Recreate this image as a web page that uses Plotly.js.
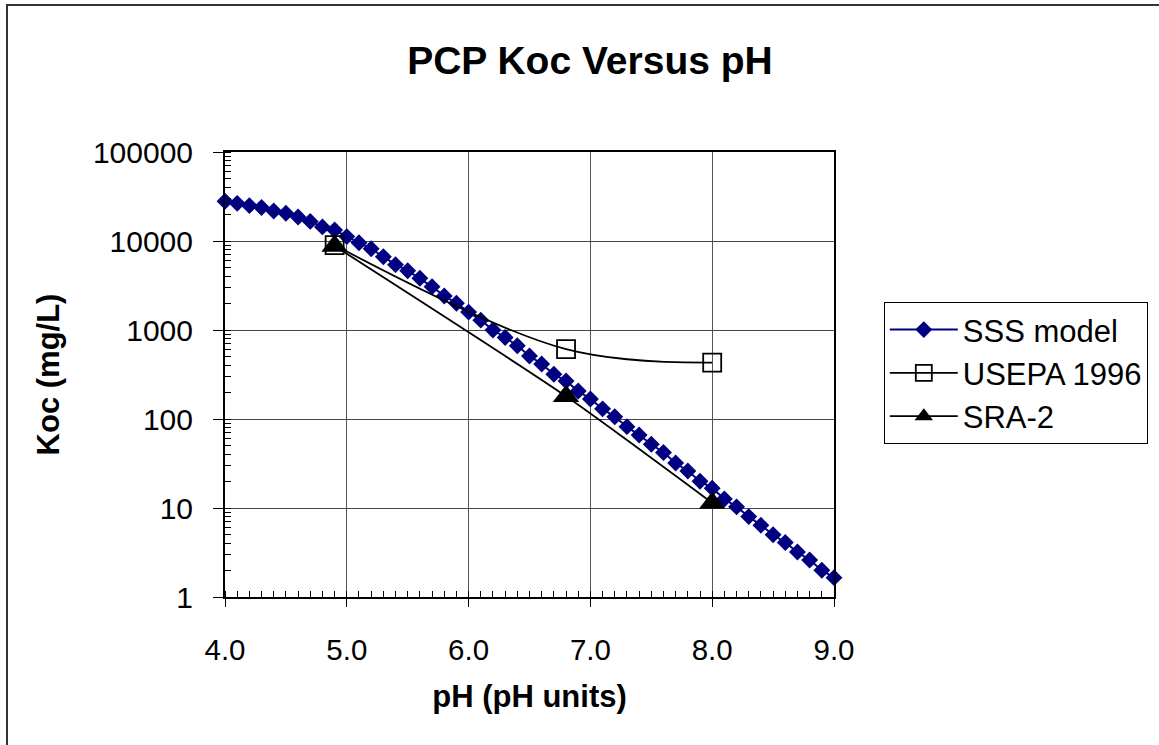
<!DOCTYPE html>
<html>
<head>
<meta charset="utf-8">
<script src="https://cdn.plot.ly/plotly-3.0.1.min.js"></script>
<style>
html,body{margin:0;padding:0;background:#fff;overflow:hidden;}
#frame{position:absolute;left:6px;top:4px;width:1200px;height:800px;border-left:2px solid #333;border-top:2px solid #333;pointer-events:none;z-index:5;}
#chart{position:absolute;left:0;top:0;width:1159px;height:745px;}
</style>
</head>
<body>
<div id="chart"></div>
<div id="frame"></div>
<script>
// ---- data ----
const phValues = [4.0,4.1,4.2,4.3,4.4,4.5,4.6,4.7,4.8,4.9,
                  5.0,5.1,5.2,5.3,5.4,5.5,5.6,5.7,5.8,5.9,
                  6.0,6.1,6.2,6.3,6.4,6.5,6.6,6.7,6.8,6.9,
                  7.0,7.1,7.2,7.3,7.4,7.5,7.6,7.7,7.8,7.9,
                  8.0,8.1,8.2,8.3,8.4,8.5,8.6,8.7,8.8,8.9,9.0];
const sssModel = [28000,26500,25000,23800,21700,20500,18600,16600,14400,13300,
                  11200,9550,8180,6660,5420,4640,3810,3070,2410,2000,
                  1590,1290,1000,825,665,511,415,318,267,206,
                  168,130,106,82,66,52,42,32,26,20,
                  16.7,12.6,10.3,8.0,6.4,5.0,4.1,3.2,2.6,2.0,1.65];
const usepaPH = [4.9, 6.8, 8.0];
const usepaKoc = [9000, 610, 430];
const sraPH = [4.9, 6.8, 8.0];
const sraKoc = [8800, 180, 11.4];
const xTickVals = [4,5,6,7,8,9];
const yTickVals = [1,10,100,1000,10000,100000];
const yTickText = ['1','10','100','1000','10000','100000'];

const FONT = 'Liberation Sans, Arial, sans-serif';

const traces = [
  {x: phValues, y: sssModel, name: 'SSS model', type: 'scatter', mode: 'lines+markers',
   line: {color: '#000080', width: 2},
   marker: {symbol: 'diamond', size: 13, color: '#000080', line: {width: 0}},
   cliponaxis: false},
  {x: usepaPH, y: usepaKoc, name: 'USEPA 1996', type: 'scatter', mode: 'lines+markers',
   line: {color: '#000', width: 1.8, shape: 'spline', smoothing: 1},
   marker: {symbol: 'square-open', size: 18, color: '#000', line: {width: 1.8, color: '#000'}},
   cliponaxis: false},
  {x: sraPH, y: sraKoc, name: 'SRA-2', type: 'scatter', mode: 'lines+markers',
   line: {color: '#000', width: 1.8, shape: 'spline', smoothing: 0.6},
   marker: {symbol: 'triangle-up', size: 23, color: '#000'},
   cliponaxis: false}
];

const layout = {
  width: 1159, height: 745,
  margin: {l: 225, r: 324, t: 152, b: 148},
  paper_bgcolor: '#fff', plot_bgcolor: '#fff',
  font: {family: FONT, color: '#000'},
  showlegend: true,
  title: {text: '<b>PCP Koc Versus pH</b>', font: {family: FONT, size: 39, color: '#000'},
          xref: 'container', yref: 'container', x: 0.509, y: 0.919, xanchor: 'center', yanchor: 'middle'},
  xaxis: {
    range: [4, 9], tickvals: xTickVals, tickformat: '.1f',
    ticks: 'outside', ticklen: 8, tickwidth: 1, tickcolor: '#000',
    tickfont: {family: FONT, size: 29.5, color: '#000'}, ticklabelstandoff: 18,
    showline: true, linecolor: '#000', linewidth: 2, mirror: true,
    showgrid: true, gridcolor: '#555', gridwidth: 1, zeroline: false,
    minor: {ticks: 'inside', dtick: 0.1, ticklen: 6, tickcolor: '#000', tickwidth: 1, showgrid: false},
    title: {text: '<b>pH (pH units)</b>', font: {family: FONT, size: 31, color: '#000'}, standoff: 20}
  },
  yaxis: {
    type: 'log', range: [0, 5], tickvals: yTickVals, ticktext: yTickText,
    ticks: 'outside', ticklen: 10, tickwidth: 1, tickcolor: '#000',
    tickfont: {family: FONT, size: 30, color: '#000'}, ticklabelstandoff: 14,
    showline: true, linecolor: '#000', linewidth: 2, mirror: true,
    showgrid: true, gridcolor: '#444', gridwidth: 1, zeroline: false,
    minor: {ticks: 'inside', dtick: 'D1', ticklen: 6, tickcolor: '#000', tickwidth: 1, showgrid: false},
    title: {text: '<b>Koc (mg/L)</b>', font: {family: FONT, size: 31, color: '#000'}, standoff: 24}
  },
  legend: {
    x: 1.080, y: 0.663, xanchor: 'left', yanchor: 'top',
    bgcolor: '#fff', bordercolor: '#000', borderwidth: 1,
    font: {family: FONT, size: 31, color: '#000'},
    itemwidth: 68, tracegroupgap: 0
  }
};

Plotly.newPlot('chart', traces, layout, {staticPlot: true, displayModeBar: false});
</script>
</body>
</html>
